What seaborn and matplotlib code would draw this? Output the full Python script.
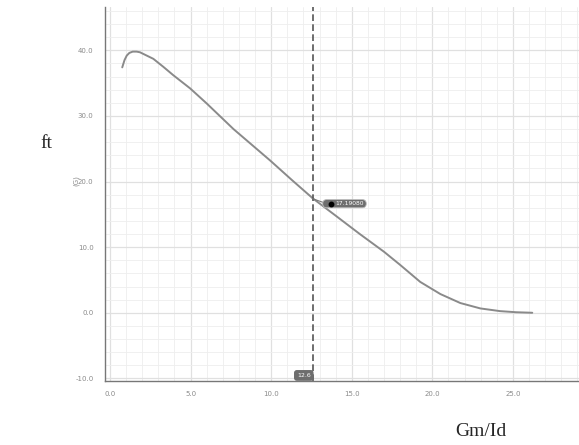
import matplotlib
matplotlib.use("Agg")
import matplotlib.pyplot as plt
import seaborn as sns
import pandas as pd
from matplotlib.patches import FancyBboxPatch
from matplotlib.ticker import MultipleLocator, FormatStrFormatter

gm_id = [0.76, 0.9, 1.04, 1.2, 1.41, 1.65, 1.86, 2.15, 2.69, 3.3, 3.93, 4.97, 6.0, 7.66,
         8.8, 9.94, 11.3, 12.6, 14.0, 15.5, 17.0, 18.0, 19.25, 20.5, 21.74, 22.98, 24.2,
         25.2, 26.2]
ft_vals = [37.4, 38.5, 39.2, 39.6, 39.8, 39.8, 39.7, 39.35, 38.7, 37.5, 36.2, 34.2, 31.9,
           28.0, 25.6, 23.2, 20.2, 17.4, 14.8, 12.0, 9.3, 7.3, 4.7, 2.85, 1.48, 0.66, 0.25,
           0.08, 0.0]
cursor_x = 12.6
cursor_y = 17.4
cursor_label = "17.19080"
x_label = "Gm/Id"
y_label = "ft"
y_unit = "(G)"

df = pd.DataFrame({"gm_id": gm_id, "ft": ft_vals})

sns.set_style("white")
fig = plt.figure(figsize=(5.79, 4.45), dpi=100)
ax = fig.add_axes([105/579, 64/445, 474/579, 374/445])

sns.lineplot(data=df, x="gm_id", y="ft", ax=ax, color="#8a8a8a", linewidth=1.4, sort=False)

ax.set_xlim(-0.31, 29.1)
ax.set_ylim(-10.4, 46.6)
ax.xaxis.set_major_locator(MultipleLocator(5))
ax.xaxis.set_minor_locator(MultipleLocator(1))
ax.yaxis.set_major_locator(MultipleLocator(10))
ax.yaxis.set_minor_locator(MultipleLocator(2))
ax.xaxis.set_major_formatter(FormatStrFormatter("%.1f"))
ax.yaxis.set_major_formatter(FormatStrFormatter("%.1f"))
ax.grid(True, which="major", color="#e0e0e0", linewidth=0.9)
ax.grid(True, which="minor", color="#eeeeee", linewidth=0.6)
ax.set_axisbelow(True)

for s in ["top", "right"]:
    ax.spines[s].set_visible(False)
for s in ["left", "bottom"]:
    ax.spines[s].set_color("#777777")
    ax.spines[s].set_linewidth(1.0)

ax.tick_params(which="both", direction="inout", colors="#777777", labelcolor="#8a8a8a",
               labelsize=5)
ax.tick_params(which="major", length=4, width=0.8)
ax.tick_params(which="minor", length=3, width=0.6)
ax.tick_params(axis="x", which="major", pad=5.5)
ax.tick_params(axis="y", which="major", pad=6.2)
ax.set_xlabel("")
ax.set_ylabel("")

# cursor line
ax.axvline(cursor_x, color="#555555", linestyle=(0, (4, 2)), linewidth=1.2)
# tooltip
ax.plot([cursor_x - 0.05, 13.25], [cursor_y, 16.8], color="#777777", lw=0.8, zorder=4)
box = FancyBboxPatch((13.2, 16.0), 2.7, 1.25,
                     boxstyle="round,pad=0,rounding_size=0.25", mutation_aspect=2.46,
                     fc="#6e6e6e", ec="#bbbbbb", lw=0.6, zorder=5)
ax.add_patch(box)
ax.plot([13.71], [16.6], marker="o", color="black", markersize=3.2, zorder=6)
ax.text(13.98, 16.62, cursor_label, fontsize=4.3, color="white",
        va="center", ha="left", zorder=6)
ax.text(cursor_x - 0.15, -9.55, f"{cursor_x:.1f}", fontsize=4.5, color="white",
        va="center", ha="right", zorder=5,
        bbox=dict(boxstyle="round,pad=0.35", fc="#6e6e6e", ec="#6e6e6e"))

fig.text(76/579, 1 - 181/445, y_unit, rotation=90, fontsize=5, color="#8a8a8a",
         ha="center", va="center")
fig.text(46/579, 1 - 143/445, y_label, fontsize=14, family="Liberation Serif",
         ha="center", va="center")
fig.text(481/579, 1 - 432/445, x_label, fontsize=14, family="Liberation Serif",
         ha="center", va="center")

fig.savefig("out.png", dpi=100)
